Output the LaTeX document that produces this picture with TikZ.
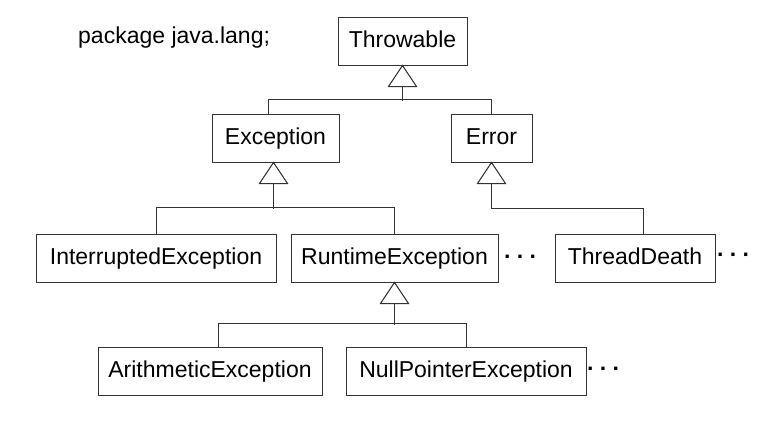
\documentclass[tikz,border=0pt]{standalone}
\usepackage{fontspec}
\setmainfont{Liberation Sans}
\usetikzlibrary{calc}
\begin{document}
\begin{tikzpicture}[x=1pt,y=-1pt,
  ln/.style={draw=black!80, line width=1pt},
  txt/.style={font=\fontsize{23}{27}\selectfont, inner sep=0pt},
  cls/.style={ln, txt, rectangle, minimum height=48pt, text height=17pt, text depth=5pt},
  tri/.style={ln, fill=white},
  dotsty/.style={txt, font=\fontsize{23}{27}\selectfont\bfseries}]
\useasboundingbox (0,0) rectangle (776,421);
\fill[white] (0,0) rectangle (776,421);

\node[txt, anchor=base west] (pkg) at (78,43) {package java.lang;};

\node[cls, minimum width=129pt] (thr) at (402.5,41) {Throwable};
\node[cls, minimum width=127pt] (exc) at (275.5,138) {Exception};
\node[cls, minimum width=81pt]  (err) at (491.5,138) {Error};
\node[cls, minimum width=240pt] (intr) at (156,258) {InterruptedException};
\node[cls, minimum width=207pt] (rte) at (394.5,258) {RuntimeException};
\node[cls, minimum width=160pt] (td) at (635,258) {ThreadDeath};
\node[cls, minimum width=224pt] (ari) at (210,371) {ArithmeticException};
\node[cls, minimum width=240pt] (npe) at (466,371) {NullPointerException};

\node[dotsty, anchor=base west] (d1) at (504,264) {·\hspace{5pt}·\hspace{5pt}·};
\node[dotsty, anchor=base west] (d2) at (717,262) {·\hspace{5pt}·\hspace{5pt}·};
\node[dotsty, anchor=base west] (d3) at (587,376) {·\hspace{5pt}·\hspace{5pt}·};

% attachment points on children
\coordinate (excin) at ($(exc.north)+(-7.5,0)$);
\coordinate (tdin) at ($(td.north)+(8,0)$);
\coordinate (ariin) at ($(ari.north)+(8,0)$);

% Throwable
\coordinate (thrb) at ($(thr.south)+(0,21)$);
\draw[ln] (thrb) -- ++(0,14);
\draw[ln] (excin) -- ++(0,-14) -| (err.north);
\draw[tri] (thr.south) -- ($(thrb)+(-14,0)$) -- ($(thrb)+(14,0)$) -- cycle;

% Exception
\coordinate (excb) at ($(exc.south)+(-2,21)$);
\draw[ln] (excb) -- ++(0,25);
\draw[ln] (intr.north) -- ++(0,-26) -| (rte.north);
\draw[tri] ($(exc.south)+(-2,0)$) -- ($(excb)+(-14,0)$) -- ($(excb)+(14,0)$) -- cycle;

% Error
\coordinate (errb) at ($(err.south)+(0,21)$);
\draw[ln] (errb) -- ++(0,25) -| (tdin);
\draw[tri] (err.south) -- ($(errb)+(-14,0)$) -- ($(errb)+(14,0)$) -- cycle;

% RuntimeException
\coordinate (rteb) at ($(rte.south)+(0,21)$);
\draw[ln] (rteb) -- ++(0,21);
\draw[ln] (ariin) -- ++(0,-23) -| (npe.north);
\draw[tri] (rte.south) -- ($(rteb)+(-14,0)$) -- ($(rteb)+(14,0)$) -- cycle;
\end{tikzpicture}
\end{document}
